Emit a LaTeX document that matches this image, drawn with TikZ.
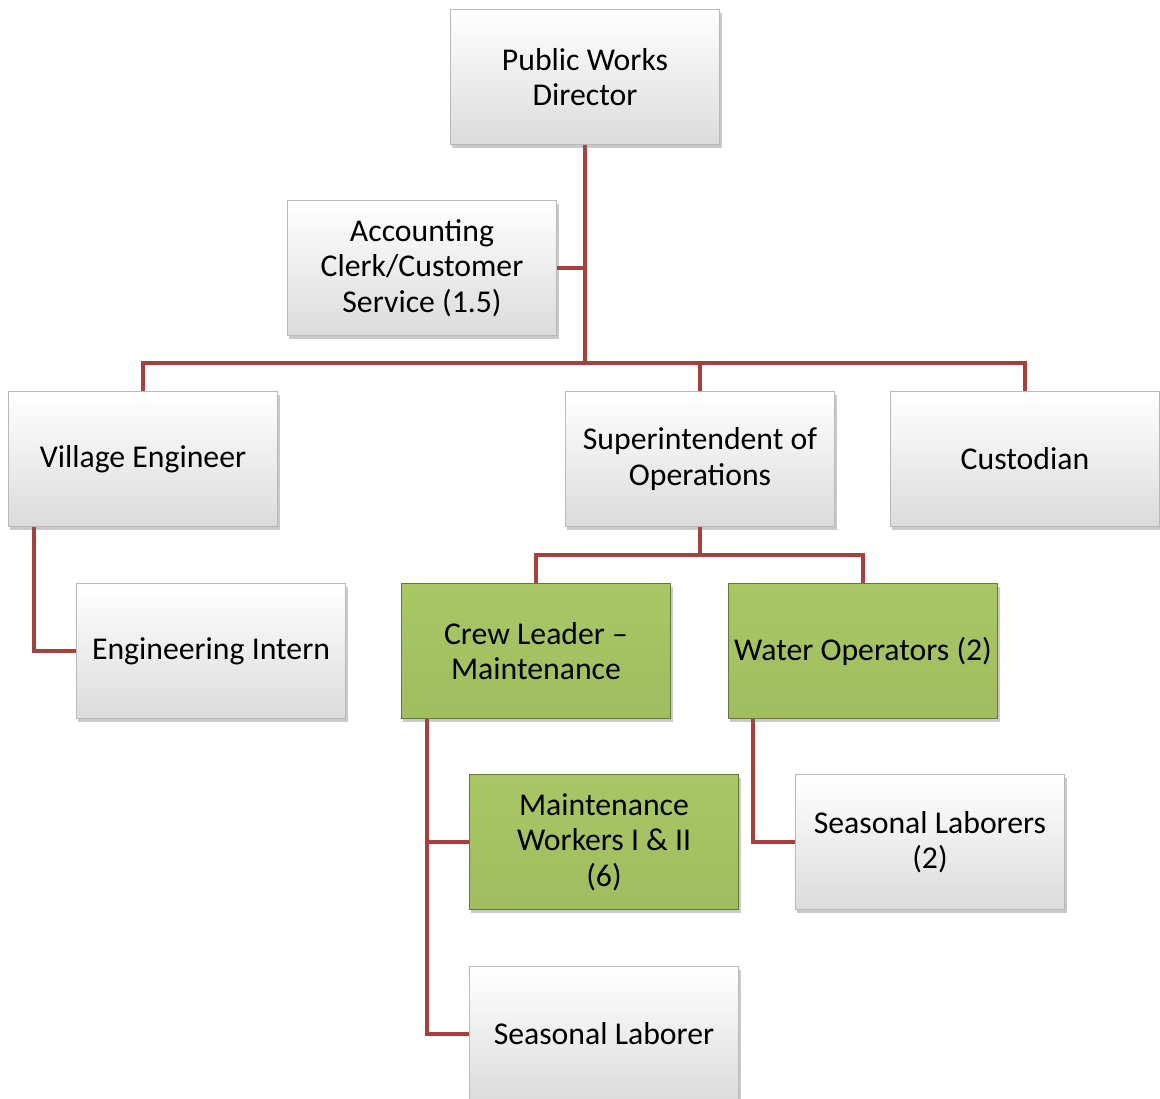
\documentclass[tikz,border=0pt]{standalone}
\usepackage{fontspec}
\setmainfont{Carlito}
\usetikzlibrary{shadows,backgrounds}
\definecolor{linkred}{RGB}{165,64,61}
\definecolor{leafgreen}{RGB}{168,199,100}
\tikzset{
  post/.style={rectangle, align=center, minimum width=202pt, minimum height=101pt,
    inner sep=2pt, font=\fontsize{23.8}{26.5}\selectfont, draw=gray!55, line width=0.8pt,
    top color=white, bottom color=gray!28,
    drop shadow={shadow xshift=1.5pt, shadow yshift=-2.5pt, opacity=0.35, fill=black!60}},
  crewpost/.style={post, top color=leafgreen, bottom color=leafgreen!95!black, draw=leafgreen!60!black},
  conn/.style={draw=linkred, line width=3pt}
}
\begin{document}
\begin{tikzpicture}[x=0.75pt,y=-0.75pt]
  \useasboundingbox (0,0) rectangle (1160,1099);
  % top of the chart
  \node[post] (pwd) at (585,77) {Public Works\\Director};
  \node[post] (acct) at (422,268) {Accounting\\Clerk/Customer\\Service (1.5)};
  % second row
  \node[post] (eng) at (143,459) {Village Engineer};
  \node[post] (supt) at (700,459) {Superintendent of\\Operations};
  \node[post] (cust) at (1025,459) {Custodian};
  % third row
  \node[post] (intern) at (211,651) {Engineering Intern};
  \node[crewpost] (crew) at (536,651) {Crew Leader --\\Maintenance};
  \node[crewpost] (water) at (863,651) {Water Operators (2)};
  % bottom rows
  \node[crewpost] (maint) at (604,842) {Maintenance\\Workers I \& II\\(6)};
  \node[post] (seasons) at (930,842) {Seasonal Laborers\\(2)};
  \node[post] (season) at (604,1034) {Seasonal Laborer};
  \begin{scope}[on background layer]
    \coordinate (bus) at (pwd.south |- 0,363);
    \coordinate (suptbus) at (supt.south |- 0,555);
    \coordinate (engdrop) at ([xshift=20pt]eng.south west);
    \coordinate (crewdrop) at ([xshift=20pt]crew.south west);
    \coordinate (waterdrop) at ([xshift=19pt]water.south west);
    \draw[conn] (pwd.south) -- (bus);
    \draw[conn] (acct.east) -- (acct.east -| bus);
    \draw[conn] (eng.north) |- (bus);
    \draw[conn] (cust.north) |- (bus);
    \draw[conn] (supt.north) |- (bus);
    \draw[conn] (supt.south) -- (suptbus);
    \draw[conn] (crew.north) |- (suptbus);
    \draw[conn] (water.north) |- (suptbus);
    \draw[conn] (engdrop) |- (intern.west);
    \draw[conn] (crewdrop) |- (season.west);
    \draw[conn] (crewdrop |- maint.west) -- (maint.west);
    \draw[conn] (waterdrop) |- (seasons.west);
  \end{scope}
\end{tikzpicture}
\end{document}
